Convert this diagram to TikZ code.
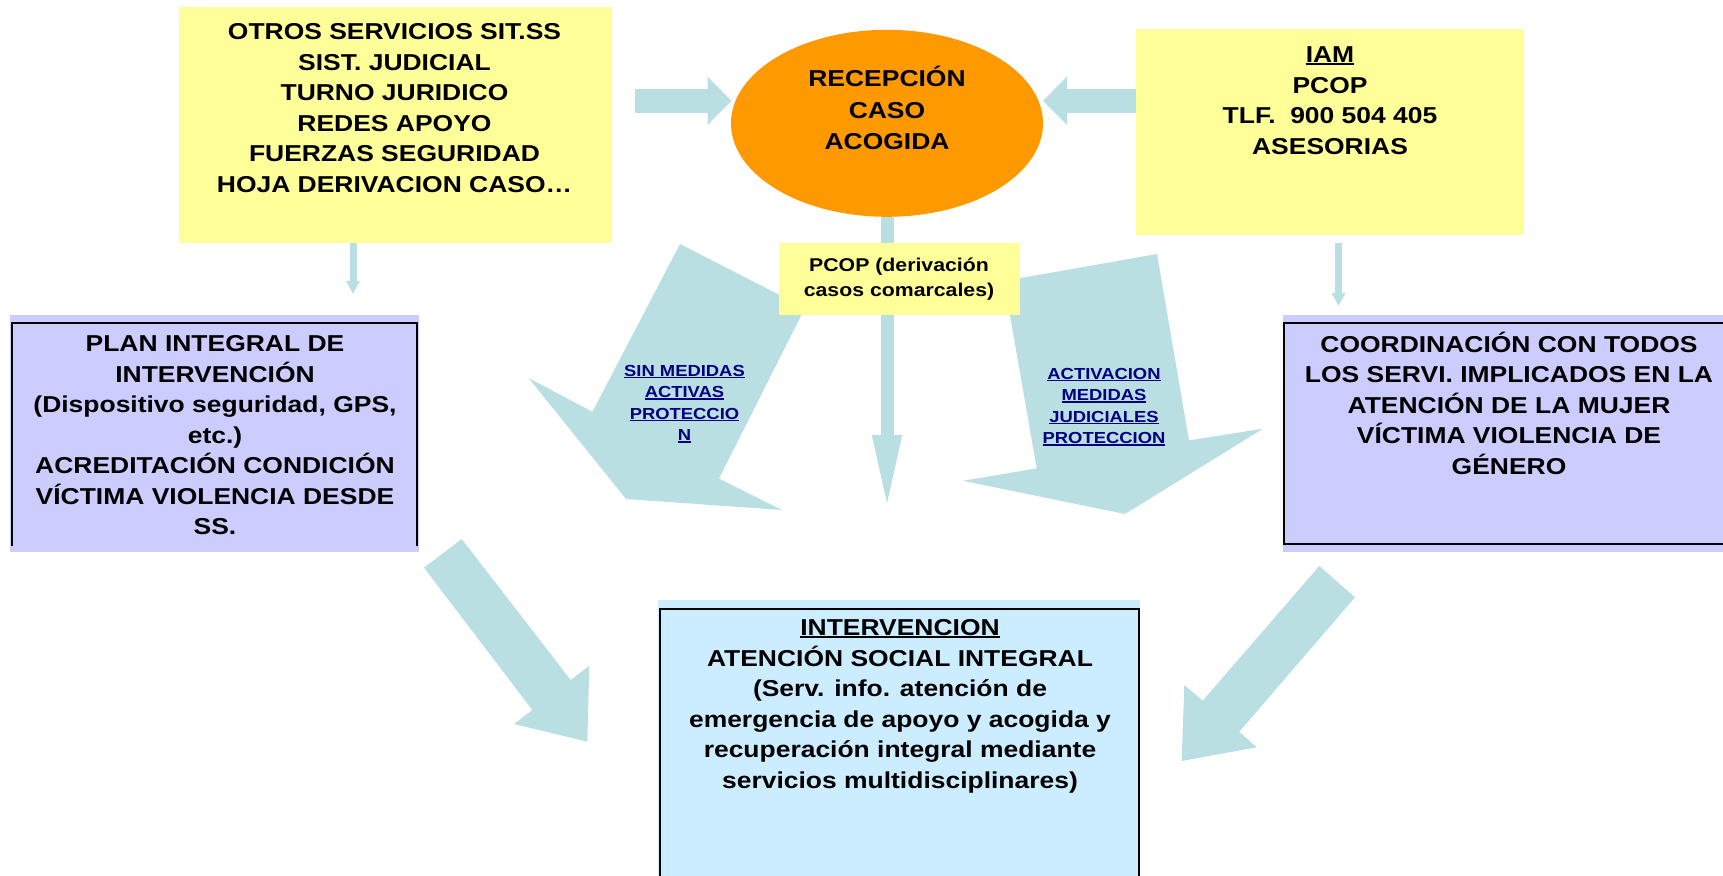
\documentclass[tikz,border=0pt]{standalone}
\usepackage{fontspec}
\setmainfont{Liberation Sans}
\newfontfamily\mainf[FakeStretch=1.15]{Liberation Sans}
\usetikzlibrary{shapes.geometric,arrows.meta}
\definecolor{yel}{HTML}{FFFF99}
\definecolor{orng}{HTML}{FF9900}
\definecolor{arrc}{HTML}{B9DFE3}
\definecolor{lav}{HTML}{CCCCFF}
\definecolor{sky}{HTML}{CCECFF}
\definecolor{navyt}{HTML}{000080}
\newcommand\myul[1]{\setbox0\hbox{#1}\rlap{\rule[-2.8pt]{\wd0}{1.9pt}}\box0}
\newcommand\myuln[1]{\setbox0\hbox{#1}\rlap{\rule[-2.4pt]{\wd0}{1.6pt}}\box0}
\tikzset{
  boxfill/.style={draw=none, inner sep=0pt, outer sep=0pt, anchor=north west},
  mtext/.style={font={\mainf\bfseries\fontsize{23}{30.5}\selectfont}, align=center, inner sep=0pt, anchor=base},
  ntext/.style={font={\mainf\bfseries\fontsize{16}{21.5}\selectfont}, align=center, inner sep=0pt, anchor=base, text=navyt},
  ptext/.style={font={\mainf\bfseries\fontsize{18.5}{25.5}\selectfont}, align=center, inner sep=0pt, anchor=base},
  bigarrow/.style={fill=arrc, draw=none},
  thinarrow/.style={draw=arrc, line width=7pt, -{Triangle[width=13pt,length=13pt]}},
  blockarrow/.style={draw=arrc, line width=23.5pt, -{Triangle[width=47pt,length=24pt]}},
  centarrow/.style={draw=arrc, line width=13pt, -{Triangle[width=26pt,length=78pt]}},
  border/.style={draw=black, line width=2pt},
}
\begin{document}
\begin{tikzpicture}[x=1pt,y=-1pt]
\useasboundingbox (0,0) rectangle (1723,875);
\clip (0,0) rectangle (1723,875);

% top-left box
\node[boxfill, fill=yel, minimum width=433pt, minimum height=236pt] (otros) at (179,7) {};
\node[mtext] (otrost) at (394.5,192) {OTROS SERVICIOS SIT.SS\\SIST. JUDICIAL\\TURNO JURIDICO\\REDES APOYO\\FUERZAS SEGURIDAD\\HOJA DERIVACION CASO…};

% IAM box
\node[boxfill, fill=yel, minimum width=388pt, minimum height=205pt] (iam) at (1136,29.5) {};
\node[mtext] (iamt) at (1330,154) {\myul{IAM}\\PCOP\\TLF.\ \ 900 504 405\\ASESORIAS};

% central arrow (behind PCOP box)
\node[ellipse, fill=orng, minimum width=312pt, minimum height=187pt, inner sep=0pt] (rec) at (887,123.3) {};
\coordinate (cb) at (887,513);
\draw[centarrow] (rec.south) -- (cb);
\node[mtext, font={\mainf\bfseries\fontsize{23}{31.3}\selectfont}] (rect) at (887,149.3) {RECEPCIÓN\\CASO\\ACOGIDA};

% block arrows into ellipse
\coordinate (la1) at (635,100.8);
\coordinate (la2) at (731.5,100.8);
\draw[blockarrow] (la1) -- (la2);
\coordinate (ra1) at (1136,100.8);
\coordinate (ra2) at (1043,100.8);
\draw[blockarrow] (ra1) -- (ra2);

% small arrows
\coordinate (s1a) at (353,243);
\coordinate (s1b) at (353,294);
\draw[thinarrow] (s1a) -- (s1b);
\coordinate (s2a) at (1338.5,243);
\coordinate (s2b) at (1338.5,306);
\draw[thinarrow] (s2a) -- (s2b);

% big arrows A and B
\fill[bigarrow] (680,244) -- (805,308) -- (719,478.5) -- (782,510) -- (626,499) -- (528.6,378) -- (592.4,411.8) -- cycle;
\fill[bigarrow] (1004,281) -- (1157,254) -- (1189,440.4) -- (1263,428.7) -- (1125,514) -- (963,480.8) -- (1036.7,468.4) -- cycle;

% PCOP box
\node[boxfill, fill=yel, minimum width=241pt, minimum height=72pt] (pcop) at (779,243) {};
\node[ptext] (pcopt) at (899,296.5) {PCOP (derivación\\casos comarcales)};

% labels
\node[ntext] (lab1) at (684.5,440.5) {\myuln{SIN MEDIDAS}\\\myuln{ACTIVAS}\\\myuln{PROTECCIO}\\\myuln{N}};
\node[ntext] (lab2) at (1104,443.5) {\myuln{ACTIVACION}\\\myuln{MEDIDAS}\\\myuln{JUDICIALES}\\\myuln{PROTECCION}};

% left purple box
\node[boxfill, fill=lav, minimum width=409pt, minimum height=237pt] (plan) at (10,315) {};
\draw[border] (12,546) -- (12,323) -- (417,323) -- (417,546);
\node[mtext] (plant) at (215,534.5) {PLAN INTEGRAL DE\\INTERVENCIÓN\\(Dispositivo seguridad, GPS,\\etc.)\\ACREDITACIÓN CONDICIÓN\\VÍCTIMA VIOLENCIA DESDE\\SS.};

% right purple box
\node[boxfill, fill=lav, minimum width=445pt, minimum height=237pt] (coord) at (1283,315) {};
\draw[border] (1284,323) rectangle (1735,544);
\node[mtext] (coordt) at (1509,474) {COORDINACIÓN CON TODOS\\LOS SERVI. IMPLICADOS EN LA\\ATENCIÓN DE LA MUJER\\VÍCTIMA VIOLENCIA DE\\GÉNERO};

% big arrows C and D
\fill[bigarrow] (424,567.7) -- (461.7,539) -- (570.7,680) -- (589.3,665.7) -- (587.3,741.7) -- (514,724) -- (532.3,710) -- cycle;
\fill[bigarrow] (1319.3,566) -- (1355,597.3) -- (1239.3,731.7) -- (1256.7,747.3) -- (1181.7,761) -- (1184.3,685) -- (1202.7,700.7) -- cycle;

% bottom box
\node[boxfill, fill=sky, minimum width=482pt, minimum height=290pt] (inter) at (658,600) {};
\draw[border] (660,890) -- (660,609) -- (1139,609) -- (1139,890);
\node[mtext] (intert) at (900,788) {\myul{INTERVENCION}\\ATENCIÓN SOCIAL INTEGRAL\\(Serv. info. atención de\\emergencia de apoyo y acogida y\\recuperación integral mediante\\servicios multidisciplinares)};
\end{tikzpicture}
\end{document}
